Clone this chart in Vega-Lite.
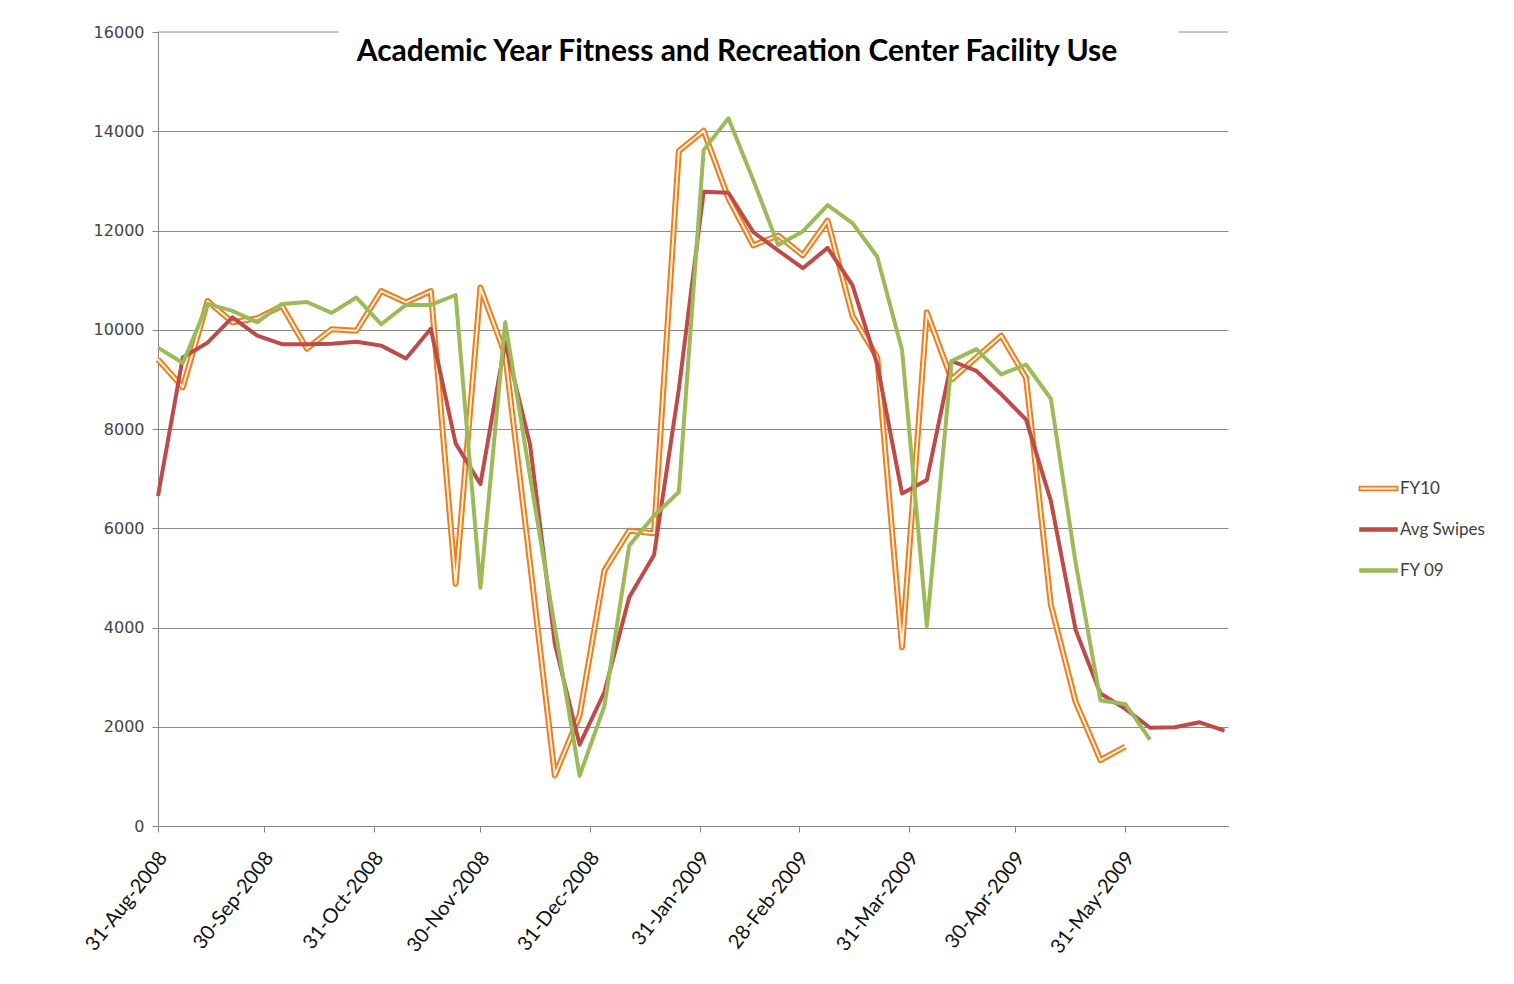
{
  "$schema": "https://vega.github.io/schema/vega-lite/v6.json",
  "width": 1070,
  "height": 794,
  "autosize": {"type": "none"},
  "padding": {"left": 158, "top": 32, "right": 286, "bottom": 158},
  "background": "white",
  "config": {"view": {"stroke": null}},
  "title": {
    "text": "Academic Year Fitness and Recreation Center Facility Use",
    "anchor": "middle", "frame": "group", "offset": 0, "baseline": "middle",
    "dy": 58, "dx": 44, "font": "Lato", "fontSize": 30, "fontWeight": "bold", "color": "#000000"
  },
  "datasets": {
    "rows": [
      {"date": "2008/08/31", "series": "FY10", "value": 9400},
      {"date": "2008/09/07", "series": "FY10", "value": 8840},
      {"date": "2008/09/14", "series": "FY10", "value": 10580},
      {"date": "2008/09/21", "series": "FY10", "value": 10150},
      {"date": "2008/09/28", "series": "FY10", "value": 10230},
      {"date": "2008/10/05", "series": "FY10", "value": 10480},
      {"date": "2008/10/12", "series": "FY10", "value": 9620},
      {"date": "2008/10/19", "series": "FY10", "value": 10010},
      {"date": "2008/10/26", "series": "FY10", "value": 9980},
      {"date": "2008/11/02", "series": "FY10", "value": 10780},
      {"date": "2008/11/09", "series": "FY10", "value": 10550},
      {"date": "2008/11/16", "series": "FY10", "value": 10780},
      {"date": "2008/11/23", "series": "FY10", "value": 4880},
      {"date": "2008/11/30", "series": "FY10", "value": 10850},
      {"date": "2008/12/07", "series": "FY10", "value": 9500},
      {"date": "2008/12/14", "series": "FY10", "value": 5300},
      {"date": "2008/12/21", "series": "FY10", "value": 1020},
      {"date": "2008/12/28", "series": "FY10", "value": 2230},
      {"date": "2009/01/04", "series": "FY10", "value": 5150},
      {"date": "2009/01/11", "series": "FY10", "value": 5950},
      {"date": "2009/01/18", "series": "FY10", "value": 5900},
      {"date": "2009/01/25", "series": "FY10", "value": 13600},
      {"date": "2009/02/01", "series": "FY10", "value": 14010},
      {"date": "2009/02/08", "series": "FY10", "value": 12650},
      {"date": "2009/02/15", "series": "FY10", "value": 11700},
      {"date": "2009/02/22", "series": "FY10", "value": 11900},
      {"date": "2009/03/01", "series": "FY10", "value": 11500},
      {"date": "2009/03/08", "series": "FY10", "value": 12200},
      {"date": "2009/03/15", "series": "FY10", "value": 10280},
      {"date": "2009/03/22", "series": "FY10", "value": 9440},
      {"date": "2009/03/29", "series": "FY10", "value": 3600},
      {"date": "2009/04/05", "series": "FY10", "value": 10350},
      {"date": "2009/04/12", "series": "FY10", "value": 9000},
      {"date": "2009/04/19", "series": "FY10", "value": 9440},
      {"date": "2009/04/26", "series": "FY10", "value": 9880},
      {"date": "2009/05/03", "series": "FY10", "value": 9030},
      {"date": "2009/05/10", "series": "FY10", "value": 4460},
      {"date": "2009/05/17", "series": "FY10", "value": 2500},
      {"date": "2009/05/24", "series": "FY10", "value": 1330},
      {"date": "2009/05/31", "series": "FY10", "value": 1600},

      {"date": "2008/08/31", "series": "Avg Swipes", "value": 6650},
      {"date": "2008/09/07", "series": "Avg Swipes", "value": 9440},
      {"date": "2008/09/14", "series": "Avg Swipes", "value": 9740},
      {"date": "2008/09/21", "series": "Avg Swipes", "value": 10250},
      {"date": "2008/09/28", "series": "Avg Swipes", "value": 9880},
      {"date": "2008/10/05", "series": "Avg Swipes", "value": 9710},
      {"date": "2008/10/12", "series": "Avg Swipes", "value": 9710},
      {"date": "2008/10/19", "series": "Avg Swipes", "value": 9720},
      {"date": "2008/10/26", "series": "Avg Swipes", "value": 9760},
      {"date": "2008/11/02", "series": "Avg Swipes", "value": 9680},
      {"date": "2008/11/09", "series": "Avg Swipes", "value": 9420},
      {"date": "2008/11/16", "series": "Avg Swipes", "value": 10020},
      {"date": "2008/11/23", "series": "Avg Swipes", "value": 7710},
      {"date": "2008/11/30", "series": "Avg Swipes", "value": 6890},
      {"date": "2008/12/07", "series": "Avg Swipes", "value": 9750},
      {"date": "2008/12/14", "series": "Avg Swipes", "value": 7690},
      {"date": "2008/12/21", "series": "Avg Swipes", "value": 3670},
      {"date": "2008/12/28", "series": "Avg Swipes", "value": 1640},
      {"date": "2009/01/04", "series": "Avg Swipes", "value": 2700},
      {"date": "2009/01/11", "series": "Avg Swipes", "value": 4610},
      {"date": "2009/01/18", "series": "Avg Swipes", "value": 5460},
      {"date": "2009/01/25", "series": "Avg Swipes", "value": 8800},
      {"date": "2009/02/01", "series": "Avg Swipes", "value": 12780},
      {"date": "2009/02/08", "series": "Avg Swipes", "value": 12760},
      {"date": "2009/02/15", "series": "Avg Swipes", "value": 11970},
      {"date": "2009/02/22", "series": "Avg Swipes", "value": 11600},
      {"date": "2009/03/01", "series": "Avg Swipes", "value": 11240},
      {"date": "2009/03/08", "series": "Avg Swipes", "value": 11650},
      {"date": "2009/03/15", "series": "Avg Swipes", "value": 10900},
      {"date": "2009/03/22", "series": "Avg Swipes", "value": 9300},
      {"date": "2009/03/29", "series": "Avg Swipes", "value": 6700},
      {"date": "2009/04/05", "series": "Avg Swipes", "value": 6970},
      {"date": "2009/04/12", "series": "Avg Swipes", "value": 9370},
      {"date": "2009/04/19", "series": "Avg Swipes", "value": 9170},
      {"date": "2009/04/26", "series": "Avg Swipes", "value": 8700},
      {"date": "2009/05/03", "series": "Avg Swipes", "value": 8190},
      {"date": "2009/05/10", "series": "Avg Swipes", "value": 6550},
      {"date": "2009/05/17", "series": "Avg Swipes", "value": 3950},
      {"date": "2009/05/24", "series": "Avg Swipes", "value": 2670},
      {"date": "2009/05/31", "series": "Avg Swipes", "value": 2360},
      {"date": "2009/06/07", "series": "Avg Swipes", "value": 1980},
      {"date": "2009/06/14", "series": "Avg Swipes", "value": 1990},
      {"date": "2009/06/21", "series": "Avg Swipes", "value": 2090},
      {"date": "2009/06/28", "series": "Avg Swipes", "value": 1920},

      {"date": "2008/08/31", "series": "FY 09", "value": 9640},
      {"date": "2008/09/07", "series": "FY 09", "value": 9330},
      {"date": "2008/09/14", "series": "FY 09", "value": 10520},
      {"date": "2008/09/21", "series": "FY 09", "value": 10380},
      {"date": "2008/09/28", "series": "FY 09", "value": 10150},
      {"date": "2008/10/05", "series": "FY 09", "value": 10520},
      {"date": "2008/10/12", "series": "FY 09", "value": 10560},
      {"date": "2008/10/19", "series": "FY 09", "value": 10340},
      {"date": "2008/10/26", "series": "FY 09", "value": 10650},
      {"date": "2008/11/02", "series": "FY 09", "value": 10110},
      {"date": "2008/11/09", "series": "FY 09", "value": 10500},
      {"date": "2008/11/16", "series": "FY 09", "value": 10500},
      {"date": "2008/11/23", "series": "FY 09", "value": 10700},
      {"date": "2008/11/30", "series": "FY 09", "value": 4800},
      {"date": "2008/12/07", "series": "FY 09", "value": 10150},
      {"date": "2008/12/14", "series": "FY 09", "value": 7050},
      {"date": "2008/12/21", "series": "FY 09", "value": 4010},
      {"date": "2008/12/28", "series": "FY 09", "value": 1010},
      {"date": "2009/01/04", "series": "FY 09", "value": 2420},
      {"date": "2009/01/11", "series": "FY 09", "value": 5650},
      {"date": "2009/01/18", "series": "FY 09", "value": 6250},
      {"date": "2009/01/25", "series": "FY 09", "value": 6730},
      {"date": "2009/02/01", "series": "FY 09", "value": 13620},
      {"date": "2009/02/08", "series": "FY 09", "value": 14260},
      {"date": "2009/02/15", "series": "FY 09", "value": 13020},
      {"date": "2009/02/22", "series": "FY 09", "value": 11710},
      {"date": "2009/03/01", "series": "FY 09", "value": 11980},
      {"date": "2009/03/08", "series": "FY 09", "value": 12510},
      {"date": "2009/03/15", "series": "FY 09", "value": 12150},
      {"date": "2009/03/22", "series": "FY 09", "value": 11470},
      {"date": "2009/03/29", "series": "FY 09", "value": 9590},
      {"date": "2009/04/05", "series": "FY 09", "value": 4030},
      {"date": "2009/04/12", "series": "FY 09", "value": 9370},
      {"date": "2009/04/19", "series": "FY 09", "value": 9610},
      {"date": "2009/04/26", "series": "FY 09", "value": 9100},
      {"date": "2009/05/03", "series": "FY 09", "value": 9300},
      {"date": "2009/05/10", "series": "FY 09", "value": 8610},
      {"date": "2009/05/17", "series": "FY 09", "value": 5300},
      {"date": "2009/05/24", "series": "FY 09", "value": 2530},
      {"date": "2009/05/31", "series": "FY 09", "value": 2460},
      {"date": "2009/06/07", "series": "FY 09", "value": 1740}
    ],
    "topgrid": [
      {"start": "2008/08/31", "end": "2008/10/21", "level": 16000},
      {"start": "2009/06/15", "end": "2009/06/29", "level": 16000}
    ]
  },
  "data": {"name": "rows"},
  "encoding": {
    "x": {
      "field": "date", "type": "temporal",
      "scale": {"domain": [{"year": 2008, "month": 8, "date": 31}, {"year": 2009, "month": 6, "date": 29}]},
      "axis": {
        "values": [
          {"year": 2008, "month": 8, "date": 31},
          {"year": 2008, "month": 9, "date": 30},
          {"year": 2008, "month": 10, "date": 31},
          {"year": 2008, "month": 11, "date": 30},
          {"year": 2008, "month": 12, "date": 31},
          {"year": 2009, "month": 1, "date": 31},
          {"year": 2009, "month": 2, "date": 28},
          {"year": 2009, "month": 3, "date": 31},
          {"year": 2009, "month": 4, "date": 30},
          {"year": 2009, "month": 5, "date": 31}
        ],
        "format": "%d-%b-%Y", "title": null, "grid": false,
        "labelAngle": -52, "labelAlign": "right", "labelBaseline": "middle",
        "labelFont": "Lato", "labelFontSize": 20, "labelColor": "#111111",
        "labelPadding": 22, "labelOffset": 5, "labelOverlap": false, "labelBound": false, "labelFlush": false,
        "tickSize": 6, "tickColor": "#868686", "domainColor": "#868686"
      }
    },
    "y": {
      "field": "value", "type": "quantitative",
      "scale": {"domain": [0, 16000], "nice": false},
      "axis": {
        "values": [0, 2000, 4000, 6000, 8000, 10000, 12000, 14000, 16000],
        "format": "d", "title": null, "grid": true, "gridColor": "#8a8a8a", "gridWidth": 1,
        "gridOpacity": {"condition": {"test": "datum.value === 16000", "value": 0}, "value": 1},
        "labelFont": "DejaVu Sans", "labelFontSize": 16, "labelColor": "#444444",
        "labelPadding": 8, "tickSize": 6, "tickColor": "#868686", "domainColor": "#868686"
      }
    }
  },
  "layer": [
    {
      "data": {"name": "topgrid"},
      "mark": {"type": "rule", "color": "#8a8a8a", "strokeWidth": 1},
      "encoding": {
        "x": {"field": "start", "type": "temporal"},
        "x2": {"field": "end"},
        "y": {"field": "level", "type": "quantitative"}
      }
    },
    {
      "transform": [{"filter": "datum.series === 'FY10'"}],
      "mark": {"type": "line", "strokeWidth": 6, "strokeJoin": "round"},
      "encoding": {
        "color": {
          "field": "series", "type": "nominal",
          "scale": {"domain": ["FY10", "Avg Swipes", "FY 09"], "range": ["#EB7E1E", "#BE4B48", "#9BBB59"]},
          "legend": {
            "title": null, "orient": "none", "legendX": 1212, "legendY": 448,
            "symbolType": "M-1,-0.1H1V0.1H-1Z", "symbolSize": 1444,
            "labelFont": "Lato", "labelFontSize": 17, "labelColor": "#404040",
            "labelOffset": 13, "rowPadding": 23,
            "encode": {
              "symbols": {
                "update": {
                  "fill": {"signal": "datum.value === 'FY10' ? '#FDF1DE' : scale('color', datum.value)"},
                  "stroke": {"signal": "scale('color', datum.value)"},
                  "strokeWidth": {"signal": "datum.value === 'FY10' ? 1.8 : 0.6"}
                }
              }
            }
          }
        }
      }
    },
    {
      "transform": [{"filter": "datum.series === 'FY10'"}],
      "mark": {"type": "line", "strokeWidth": 2, "strokeJoin": "round", "color": "#FDF1DE"},
      "encoding": {}
    },
    {
      "transform": [{"filter": "datum.series === 'Avg Swipes'"}],
      "mark": {"type": "line", "strokeWidth": 4, "strokeJoin": "round"},
      "encoding": {"color": {"field": "series", "type": "nominal"}}
    },
    {
      "transform": [{"filter": "datum.series === 'FY 09'"}],
      "mark": {"type": "line", "strokeWidth": 4, "strokeJoin": "round"},
      "encoding": {"color": {"field": "series", "type": "nominal"}}
    }
  ]
}
